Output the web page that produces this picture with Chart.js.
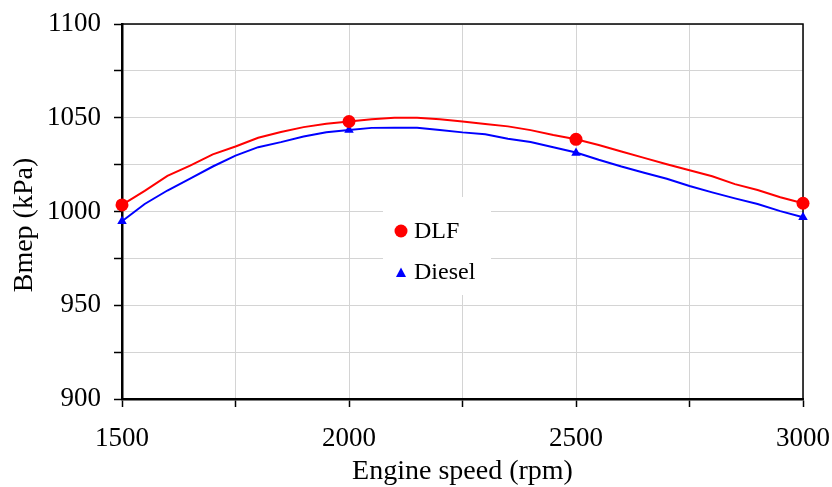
<!DOCTYPE html>
<html>
<head>
<meta charset="utf-8">
<script src="https://cdn.jsdelivr.net/npm/chart.js@4"></script>
<style>
  html, body { margin: 0; padding: 0; background: #fff; }
  #wrap { width: 832px; height: 487px; position: relative; }
</style>
</head>
<body>
<div id="wrap"><canvas id="bmepChart"></canvas></div>
<script>
// engine speed (rpm) for the curves
const speeds = [1500, 1550, 1600, 1650, 1700, 1750, 1800, 1850, 1900, 1950,
  2000, 2050, 2100, 2150, 2200, 2250, 2300, 2350, 2400, 2450,
  2500, 2550, 2600, 2650, 2700, 2750, 2800, 2850, 2900, 2950, 3000];

const dlfCurve = [1003.5, 1011, 1019, 1024.5, 1030.5, 1034.7, 1039.3, 1042.4, 1045, 1046.8,
  1048, 1049.2, 1050, 1050, 1049.2, 1048, 1046.7, 1045.4, 1043.4, 1040.8,
  1038.5, 1035.5, 1032, 1028.6, 1025.2, 1022, 1018.8, 1014.6, 1011.5, 1007.6, 1004.4];

const dieselCurve = [994.8, 1004, 1011.2, 1017.5, 1024, 1029.8, 1034.3, 1037, 1040, 1042.3,
  1043.5, 1044.6, 1044.7, 1044.7, 1043.5, 1042.2, 1041.2, 1038.8, 1037.1, 1034.3,
  1031.5, 1027.6, 1024, 1020.7, 1017.5, 1013.6, 1010.2, 1007, 1004, 1000.2, 996.9];

// measured points (markers)
const testSpeeds = [1500, 2000, 2500, 3000];
const dlfPoints = [1003.5, 1048, 1038.5, 1004.4];
const dieselPoints = [994.8, 1043.5, 1031.2, 996.9];

const xTicks = [1500, 2000, 2500, 3000];
const yTicks = [900, 950, 1000, 1050, 1100];

const FONT = "'Liberation Serif', 'Times New Roman', serif";

const toXY = (xs, ys) => xs.map((x, i) => ({ x: x, y: ys[i] }));

// white legend box inside the plot, drawn over the grid
const insideLegend = {
  id: 'insideLegend',
  beforeDatasetsDraw(chart) {
    const ctx = chart.ctx;
    ctx.save();
    ctx.fillStyle = '#fff';
    ctx.fillRect(383, 197, 108, 98);

    ctx.fillStyle = '#ff0000';
    ctx.beginPath();
    ctx.arc(401, 231, 6.5, 0, Math.PI * 2);
    ctx.fill();

    ctx.fillStyle = '#0000ff';
    ctx.beginPath();
    ctx.moveTo(401, 267.5);
    ctx.lineTo(406, 277);
    ctx.lineTo(396, 277);
    ctx.closePath();
    ctx.fill();

    ctx.fillStyle = '#000';
    ctx.font = '24px ' + FONT;
    ctx.textBaseline = 'middle';
    ctx.fillText('DLF', 414, 232);
    ctx.fillText('Diesel', 414, 273);
    ctx.restore();
  }
};

// top and right frame lines, y axis title
const frame = {
  id: 'frame',
  beforeDatasetsDraw(chart) {
    const { ctx, chartArea: a } = chart;
    ctx.save();
    ctx.strokeStyle = '#000';
    ctx.lineWidth = 1.5;
    ctx.beginPath();
    ctx.moveTo(a.left, a.top);
    ctx.lineTo(a.right, a.top);
    ctx.lineTo(a.right, a.bottom);
    ctx.stroke();

    ctx.translate(25, 225);
    ctx.rotate(-Math.PI / 2);
    ctx.fillStyle = '#000';
    ctx.font = '28px ' + FONT;
    ctx.textAlign = 'center';
    ctx.textBaseline = 'middle';
    ctx.fillText('Bmep (kPa)', 0, 0);
    ctx.restore();
  }
};

new Chart(document.getElementById('bmepChart'), {
  type: 'scatter',
  data: {
    datasets: [
      {
        label: 'DLF curve',
        data: toXY(speeds, dlfCurve),
        showLine: true,
        borderColor: '#ff0000',
        borderWidth: 2,
        pointRadius: 0,
        clip: false
      },
      {
        label: 'Diesel curve',
        data: toXY(speeds, dieselCurve),
        showLine: true,
        borderColor: '#0000ff',
        borderWidth: 2,
        pointRadius: 0,
        clip: false
      },
      {
        label: 'DLF',
        data: toXY(testSpeeds, dlfPoints),
        pointStyle: 'circle',
        pointRadius: 6.5,
        backgroundColor: '#ff0000',
        borderColor: '#ff0000',
        borderWidth: 0,
        clip: false
      },
      {
        label: 'Diesel',
        data: toXY(testSpeeds, dieselPoints),
        pointStyle: 'triangle',
        pointRadius: 5.5,
        backgroundColor: '#0000ff',
        borderColor: '#0000ff',
        borderWidth: 0,
        clip: false
      }
    ]
  },
  options: {
    responsive: true,
    maintainAspectRatio: false,
    animation: false,
    layout: { padding: { top: 24, right: 29, left: 0, bottom: 0 } },
    plugins: {
      legend: { display: false },
      tooltip: { enabled: false }
    },
    scales: {
      x: {
        type: 'linear',
        min: 1500,
        max: 3000,
        afterFit: s => { s.height = 88; s.paddingLeft = 0; s.paddingRight = 0; },
        ticks: {
          stepSize: 250,
          autoSkip: false,
          maxRotation: 0,
          padding: 16,
          color: '#000',
          font: { family: FONT, size: 27 },
          callback: v => xTicks.includes(v) ? String(v) : ''
        },
        grid: {
          color: '#d4d4d4',
          lineWidth: 1,
          tickColor: '#000',
          tickLength: 8,
          tickWidth: 1.5
        },
        border: { color: '#000', width: 2.5 },
        title: {
          display: true,
          text: 'Engine speed (rpm)',
          color: '#000',
          font: { family: FONT, size: 28, lineHeight: 1.1 },
          padding: { top: 0, bottom: 0 }
        }
      },
      y: {
        type: 'linear',
        min: 900,
        max: 1100,
        afterFit: s => { s.width = 122; s.paddingTop = 0; s.paddingBottom = 0; },
        ticks: {
          stepSize: 25,
          autoSkip: false,
          padding: 13,
          color: '#000',
          font: { family: FONT, size: 27 },
          callback: v => yTicks.includes(v) ? String(v) : ''
        },
        grid: {
          color: '#d4d4d4',
          lineWidth: 1,
          tickColor: '#000',
          tickLength: 8,
          tickWidth: 1.5
        },
        border: { color: '#000', width: 2.5 }
      }
    }
  },
  plugins: [insideLegend, frame]
});
</script>
</body>
</html>
